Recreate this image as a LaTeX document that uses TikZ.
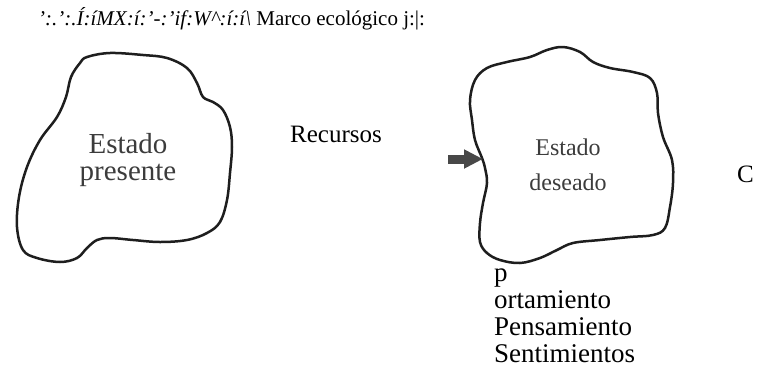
\documentclass[tikz,border=0pt]{standalone}
\usepackage{fontspec}
\setmainfont{Liberation Serif}
\usetikzlibrary{arrows.meta}
\definecolor{ink}{HTML}{1E1E1E}
\definecolor{labelgray}{HTML}{3C3C3C}
\definecolor{arrowgray}{HTML}{484848}
\tikzset{
  blob/.style={draw=ink, line width=2.5pt, line join=round},
  ocr/.style={inner sep=0pt, text=black},
  blobtext/.style={inner sep=0pt, align=center, text=labelgray},
  bigarrow/.style={draw=arrowgray, line width=9pt, -{Triangle[length=19pt,width=18pt]}}
}
\begin{document}
\begin{tikzpicture}[x=1pt,y=-1pt]
\useasboundingbox (0,0) rectangle (765,378);
\fill[white] (0,0) rectangle (765,378);

% blob 1
\draw[blob] plot[smooth cycle, tension=0.6] coordinates {
 (80,63) (87,57) (110,53) (143,55) (167,58) (187,68) (197,83) (203,97)
 (213,102) (223,110) (230,127) (232,147) (230,173) (227,200) (220,222)
 (207,233) (187,240) (160,242) (133,240) (110,238) (97,240) (87,248)
 (77,258) (60,262) (37,258) (23,250) (17,227) (19,197) (27,167)
 (40,140) (57,117) (66,97) (71,77)};

% blob 2
\draw[blob] plot[smooth cycle, tension=0.6] coordinates {
 (482,158) (475,140) (472,120) (470,100) (475,80) (487,68) (507,62)
 (530,57) (547,50) (563,47) (580,52) (593,62) (610,68) (633,72)
 (650,78) (657,93) (658,113) (663,137) (672,160) (673,183) (670,207)
 (665,228) (653,235) (630,237) (600,240) (573,243) (557,250) (540,258)
 (520,263) (500,260) (487,253) (480,242) (480,223) (483,203) (487,183)
 (485,168)};

\node[blobtext, anchor=base, font=\fontsize{29}{27}\selectfont] (present) at (128,180) {Estado\\presente};
\node[blobtext, anchor=base, font=\fontsize{24}{35}\selectfont] (desired) at (568,190) {Estado\\deseado};

\coordinate (arrS) at (448,159);
\coordinate (arrE) at (483,159);
\draw[bigarrow] (arrS) -- (arrE);

\node[ocr, anchor=base west, font=\fontsize{21}{24}\selectfont] (header) at (38,25)
  {\textit{':.':.Í:íMX:í:'-:'if:W\^{}:í:í\textbackslash}\ Marco ecológico j:|:};
\node[ocr, anchor=base west, font=\fontsize{25}{28}\selectfont] (rec) at (290,142) {Recursos};
\node[ocr, anchor=base west, font=\fontsize{25}{28}\selectfont] (cc) at (737,182) {C};
\node[ocr, anchor=base west, align=left, font=\fontsize{27}{26.7}\selectfont] (beh) at (494,362)
  {p\\ortamiento\\Pensamiento\\Sentimientos};
\end{tikzpicture}
\end{document}
